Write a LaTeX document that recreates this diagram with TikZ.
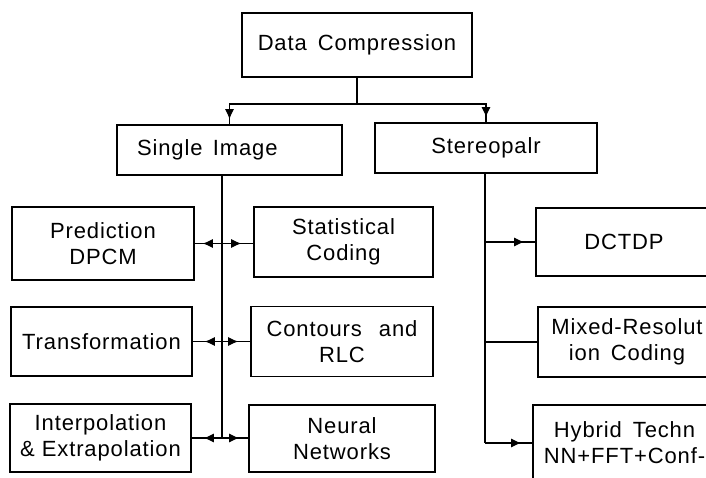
\documentclass[tikz,border=0pt]{standalone}
\usepackage{fontspec}
\setmainfont{Liberation Sans}[LetterSpace=4]
\usetikzlibrary{arrows.meta,decorations.markings}
\begin{document}
\begin{tikzpicture}[x=1pt,y=-1pt,
  box/.style={draw, line width=1.6pt, inner sep=0pt, align=center,
    font=\fontsize{22}{26}\selectfont},
  link/.style={line width=1.6pt},
  midarrow/.style={link, postaction={decorate}, decoration={markings,
    mark=at position #1 with {\arrow[line width=1pt]{Latex[length=10pt,width=9pt]}}}}]
\useasboundingbox (0,0) rectangle (706,477);
\clip (0,0) rectangle (706,477);
% top
\node[box, minimum width=230pt, minimum height=64pt] (dc) at (357,45) {Data\hspace{4pt} Compression};
\node[box, minimum height=50pt, text width=185pt, inner xsep=20pt, align=left] (si) at (229.5,150) {Single\hspace{3pt} Image};
\node[box, minimum width=222pt, minimum height=50pt] (sp) at (486,148) {Stereopalr};
% single image children
\node[box, minimum width=182pt, minimum height=73pt] (pr) at (103,243.5) {Prediction\\DPCM};
\node[box, minimum width=179pt, minimum height=70pt] (sc) at (343.5,242) {Statistical\\Coding};
\node[box, minimum width=181pt, minimum height=69pt] (tr) at (101.5,341.5) {Transformation};
\node[box, minimum width=182pt, minimum height=70pt] (cr) at (342,341.5) {Contours\hspace{10pt} and\\RLC};
\node[box, minimum width=181pt, minimum height=68pt] (ip) at (100.5,438) {Interpolation\\\& Extrapolation};
\node[box, minimum width=186pt, minimum height=67pt] (nn) at (342,438.5) {Neural\\Networks};
% stereopair children
\node[box, minimum width=176pt, minimum height=68pt] (dct) at (624,242) {DCTDP};
\node[box, minimum width=178pt, minimum height=70pt] (mx) at (627,342) {Mixed-Resolut\\ion\hspace{4pt} Coding};
\node[box, minimum width=183pt, minimum height=76pt] (hy) at (624.5,443) {Hybrid\hspace{4pt} Techn\\NN+FFT+Conf-};
% top connectors
\coordinate (j) at (dc.south |- 0,104);
\draw[link] (dc.south) -- (j);
\draw[midarrow=-5pt] (j) -| (si.north);
\draw[midarrow=-5pt] (j) -| (sp.north);
% single image trunk
\coordinate (s1) at (222,175);
\coordinate (s2) at (222,438);
\draw[link] (s1) -- (s2);
\draw[midarrow=-8pt] (s1 |- pr.east) -- (pr.east);
\draw[midarrow=-12pt] (s1 |- pr.east) -- (sc.west |- pr.east);
\draw[midarrow=-12pt] (s1 |- tr.east) -- (tr.east);
\draw[midarrow=-12pt] (s1 |- tr.east) -- (cr.west |- tr.east);
\draw[midarrow=-12pt] (s2) -- (ip.east);
\draw[midarrow=-9pt] (s2) -- (nn.west |- s2);
% stereopair trunk
\coordinate (t1) at (485,173);
\coordinate (t2) at (485,443);
\draw[link] (t1) -- (t2);
\draw[midarrow=-11pt] (t1 |- dct.west) -- (dct.west);
\draw[link] (t1 |- mx.west) -- (mx.west);
\draw[midarrow=-11pt] (t2) -- (hy.west);
\end{tikzpicture}
\end{document}
